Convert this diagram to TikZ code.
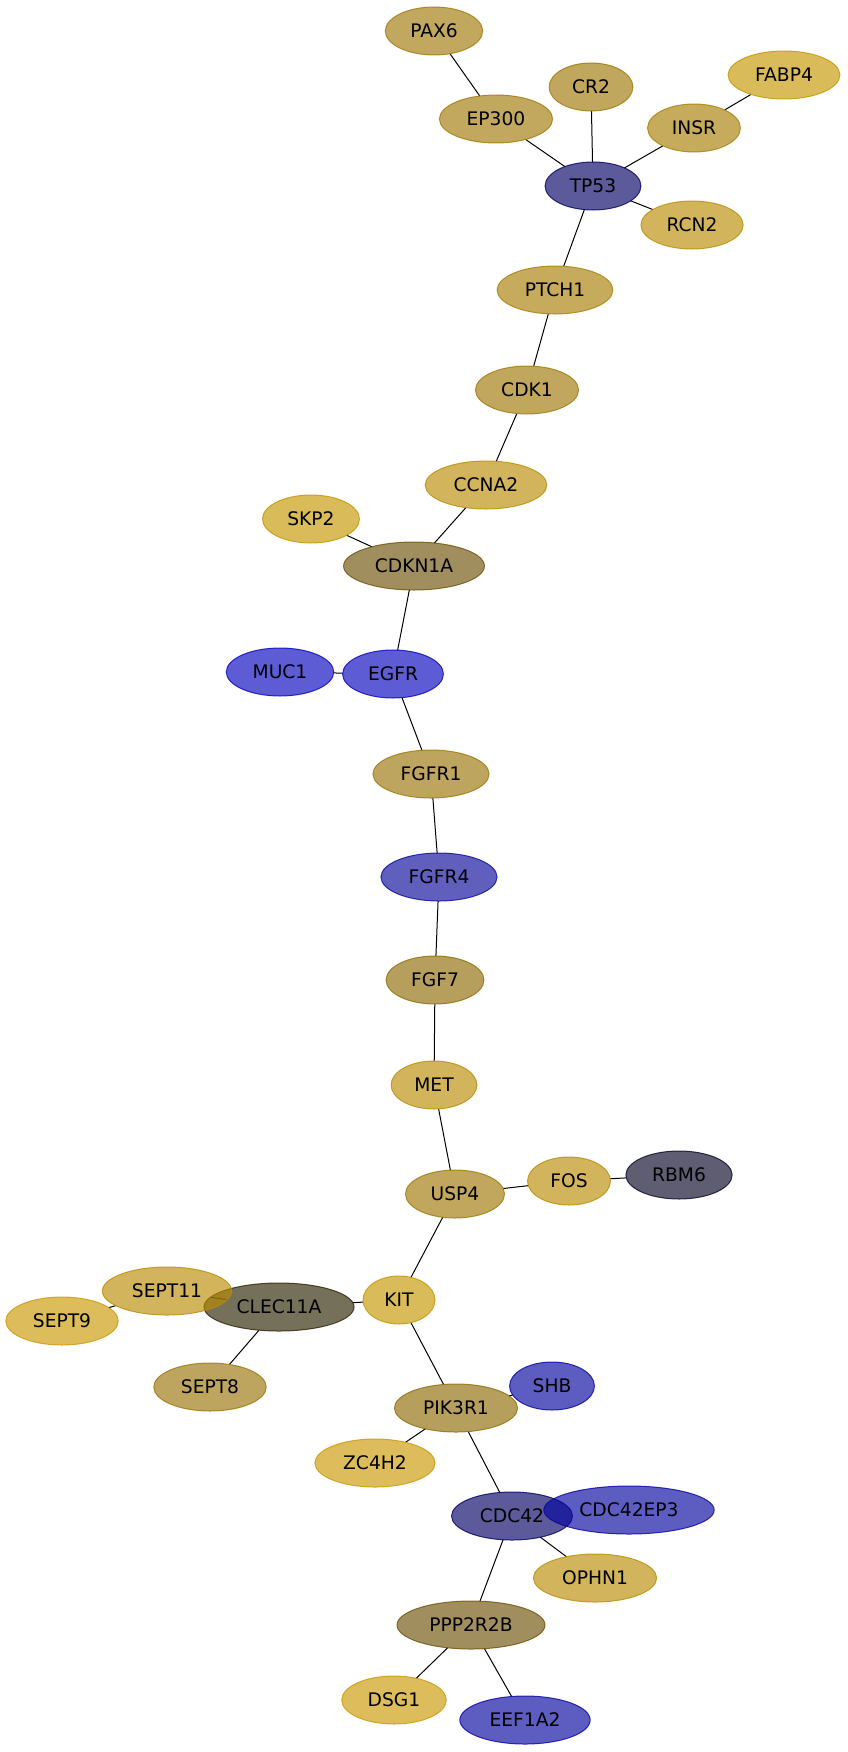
\documentclass[tikz,border=0pt]{standalone}
\usepackage{fontspec}
\setmainfont{DejaVu Sans}
\usetikzlibrary{shapes.geometric}
\usetikzlibrary{backgrounds}

% fill colours, laid over white with fill opacity 0.65
\definecolor{tanA}{RGB}{161,121,7}
\definecolor{tanB}{RGB}{158,120,6}
\definecolor{tanC}{RGB}{168,126,6}
\definecolor{goldA}{RGB}{186,140,4}
\definecolor{goldB}{RGB}{196,150,2}
\definecolor{goldC}{RGB}{203,152,4}
\definecolor{oliveA}{RGB}{155,117,9}
\definecolor{oliveB}{RGB}{143,108,6}
\definecolor{brownA}{RGB}{109,81,7}
\definecolor{greyA}{RGB}{43,35,0}
\definecolor{slateA}{RGB}{7,6,38}
\definecolor{navyA}{RGB}{4,1,100}
\definecolor{blueA}{RGB}{6,4,189}
\definecolor{blueB}{RGB}{10,9,155}
\definecolor{blueC}{RGB}{6,4,160}

\tikzset{every picture/.style={/utils/exec={\fontsize{14}{17}\selectfont}}}
\tikzset{
  gene/.style={ellipse, draw=#1, fill=#1, fill opacity=0.65, draw opacity=0.8,
    text opacity=1, line width=0.75pt, inner xsep=8pt, inner ysep=4pt,
    minimum width=54pt, minimum height=36pt, outer sep=0pt},
  link/.style={line width=0.75pt}
}

\begin{document}
\begin{tikzpicture}[x=0.75pt, y=-0.75pt]
  \useasboundingbox (0,0) rectangle (848,1752);

  % top cluster
  \node [gene=tanA] (PAX6) at (434,31) {PAX6};
  \node [gene=tanA] (EP300) at (496,119) {EP300};
  \node [gene=tanB] (CR2) at (591,87) {CR2};
  \node [gene=goldB] (FABP4) at (784,75) {FABP4};
  \node [gene=tanC] (INSR) at (694,128) {INSR};
  \node [gene=navyA] (TP53) at (593,186) {TP53};
  \node [gene=goldA] (RCN2) at (692,225) {RCN2};

  \node [gene=tanC] (PTCH1) at (555,290) {PTCH1};
  \node [gene=tanB] (CDK1) at (527,390) {CDK1};
  \node [gene=goldA] (CCNA2) at (486,485) {CCNA2};
  \node [gene=goldB] (SKP2) at (311,519) {SKP2};
  \node [gene=brownA] (CDKN1A) at (414,566) {CDKN1A};
  \node [gene=blueA] (MUC1) at (280,672) {MUC1};
  \node [gene=blueA] (EGFR) at (393,674) {EGFR};
  \node [gene=oliveA] (FGFR1) at (431,774) {FGFR1};
  \node [gene=blueB] (FGFR4) at (439,877) {FGFR4};
  \node [gene=oliveB] (FGF7) at (435,980) {FGF7};
  \node [gene=goldA] (MET) at (434,1085) {MET};
  \node [gene=tanB] (USP4) at (455,1194) {USP4};
  \node [gene=goldA] (FOS) at (569,1181) {FOS};
  \node [gene=slateA] (RBM6) at (679,1175) {RBM6};

  % lower cluster
  \node [gene=goldB] (KIT) at (399,1300) {KIT};
  \node [gene=greyA] (CLEC11A) at (279,1307) {CLEC11A};
  \node [gene=goldA] (SEPT11) at (167,1291) {SEPT11};
  \node [gene=goldC] (SEPT9) at (62,1321) {SEPT9};
  \node [gene=oliveA] (SEPT8) at (210,1387) {SEPT8};
  \node [gene=blueC] (SHB) at (552,1386) {SHB};
  \node [gene=oliveB] (PIK3R1) at (456,1408) {PIK3R1};
  \node [gene=goldC] (ZC4H2) at (375,1463) {ZC4H2};
  \node [gene=navyA] (CDC42) at (512,1516) {CDC42};
  \node [gene=blueC] (CDC42EP3) at (629,1510) {CDC42EP3};
  \node [gene=goldA] (OPHN1) at (595,1578) {OPHN1};
  \node [gene=brownA] (PPP2R2B) at (471,1625) {PPP2R2B};
  \node [gene=goldC] (DSG1) at (394,1700) {DSG1};
  \node [gene=blueC] (EEF1A2) at (525,1720) {EEF1A2};

  \begin{pgfonlayer}{background}
    \foreach \a/\b in {PAX6/EP300, EP300/TP53, CR2/TP53, INSR/TP53, FABP4/INSR,
        TP53/RCN2, TP53/PTCH1, PTCH1/CDK1, CDK1/CCNA2, CCNA2/CDKN1A,
        SKP2/CDKN1A, CDKN1A/EGFR, MUC1/EGFR, EGFR/FGFR1, FGFR1/FGFR4,
        FGFR4/FGF7, FGF7/MET, MET/USP4, USP4/FOS, FOS/RBM6, USP4/KIT,
        KIT/CLEC11A, CLEC11A/SEPT11, SEPT11/SEPT9, CLEC11A/SEPT8,
        KIT/PIK3R1, PIK3R1/SHB, PIK3R1/ZC4H2, PIK3R1/CDC42,
        CDC42/OPHN1, CDC42/PPP2R2B, PPP2R2B/DSG1, PPP2R2B/EEF1A2}
      \draw [link] (\a) -- (\b);
  \end{pgfonlayer}
\end{tikzpicture}
\end{document}
